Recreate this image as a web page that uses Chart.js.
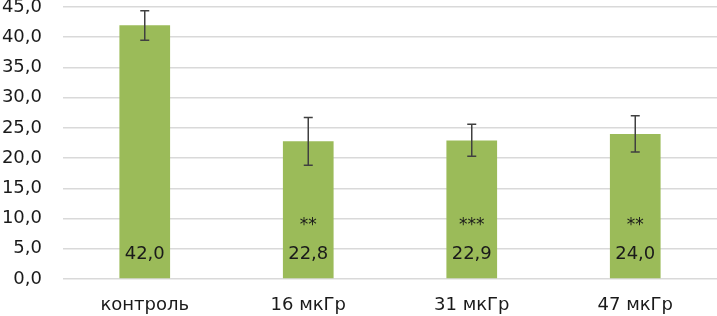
<!DOCTYPE html>
<html><head><meta charset="utf-8">
<script src="https://cdn.jsdelivr.net/npm/chart.js@4/dist/chart.umd.min.js"></script>
<style>html,body{margin:0;padding:0;background:#fff}#w{width:717px;height:316px}</style>
</head><body><div id="w"><canvas id="c"></canvas></div>
<script>
const categories = ["контроль", "16 мкГр", "31 мкГр", "47 мкГр"];
const values = [42.0, 22.8, 22.9, 24.0];
const errPlus = [2.4, 3.9, 2.7, 3.0];
const errMinus = [2.5, 4.0, 2.6, 3.0];
const marks = ["", "**", "***", "**"];
const yTicks = [0, 5, 10, 15, 20, 25, 30, 35, 40, 45];

const fmt = v => v.toFixed(1).replace('.', ',');
const FONT = "'DejaVu Sans', sans-serif";

const overlay = {
  id: 'overlay',
  afterDatasetsDraw(chart) {
    const ctx = chart.ctx, y = chart.scales.y;
    const meta = chart.getDatasetMeta(0);
    ctx.save();
    meta.data.forEach((bar, i) => {
      const x = bar.x;
      const yt = y.getPixelForValue(values[i] + errPlus[i]);
      const yb = y.getPixelForValue(values[i] - errMinus[i]);
      ctx.strokeStyle = '#404040'; ctx.lineWidth = 1.5;
      ctx.beginPath();
      ctx.moveTo(x, yt); ctx.lineTo(x, yb);
      ctx.moveTo(x - 4.5, yt); ctx.lineTo(x + 4.5, yt);
      ctx.moveTo(x - 4.5, yb); ctx.lineTo(x + 4.5, yb);
      ctx.stroke();
      ctx.fillStyle = '#1a1a1a';
      ctx.textAlign = 'center'; ctx.textBaseline = 'middle';
      ctx.font = "18px " + FONT;
      ctx.fillText(fmt(values[i]), x, y.bottom - 25);
      if (marks[i]) {
        ctx.font = "17px " + FONT;
        ctx.fillText(marks[i], x, y.bottom - 53);
      }
    });
    ctx.restore();
  }
};

new Chart(document.getElementById('c'), {
  type: 'bar',
  data: {
    labels: categories,
    datasets: [{ data: values, backgroundColor: '#9BBB59', categoryPercentage: 1, barPercentage: 0.31 }]
  },
  options: {
    responsive: true, maintainAspectRatio: false, animation: false,
    layout: { padding: { top: 7, right: 0, left: 0, bottom: 0 } },
    plugins: { legend: { display: false }, tooltip: { enabled: false } },
    scales: {
      x: {
        grid: { display: false, drawTicks: false },
        border: { display: false },
        ticks: { color: '#1a1a1a', font: { family: FONT, size: 18 }, padding: 16 },
        afterFit(s) { s.height = 37; s.paddingLeft = 0; s.paddingRight = 0; }
      },
      y: {
        min: 0, max: 45,
        afterBuildTicks(s) { s.ticks = yTicks.map(v => ({ value: v })); },
        grid: { color: '#d9d9d9', lineWidth: 1.5, drawTicks: false },
        border: { display: false },
        ticks: { color: '#1a1a1a', font: { family: FONT, size: 18 }, padding: 21,
                 callback: v => fmt(v) },
        afterFit(s) { s.width = 63; s.paddingTop = 0; s.paddingBottom = 0; }
      }
    }
  },
  plugins: [overlay]
});
</script>
</body></html>
